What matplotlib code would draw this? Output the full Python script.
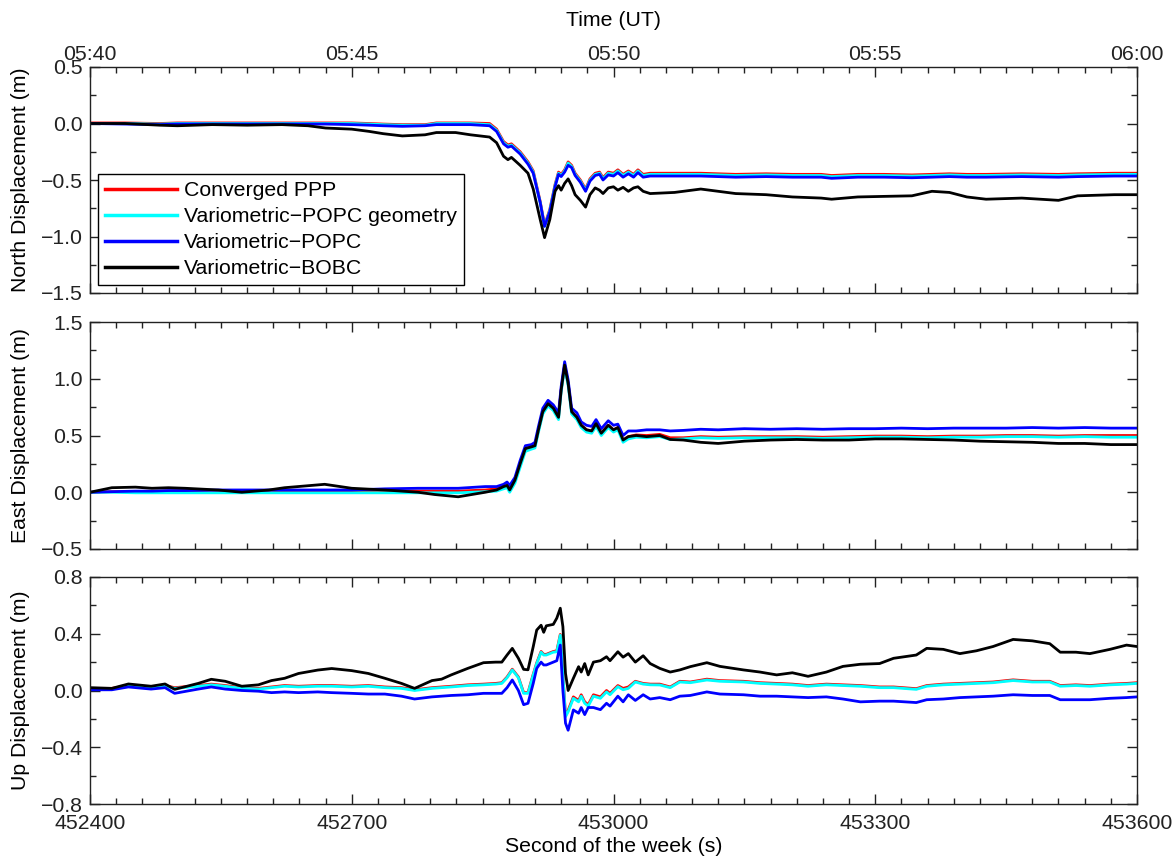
import matplotlib
matplotlib.use("Agg")
import matplotlib.pyplot as plt
from matplotlib.ticker import MultipleLocator, FuncFormatter
from matplotlib.legend_handler import HandlerLine2D
from matplotlib.lines import Line2D

plt.rcParams['font.family'] = ['Liberation Sans', 'DejaVu Sans']
plt.rcParams['font.size'] = 15.3

# ---------------- North component ----------------
t_north = [452400, 452440, 452480, 452500, 452540, 452580, 452620, 452650, 452670, 452700,
           452720, 452736, 452758, 452784, 452797, 452819, 452836,
           452858, 452866, 452874, 452879, 452883, 452893, 452902, 452908, 452916, 452921,
           452927, 452933, 452937, 452940, 452944, 452948, 452952, 452956, 452962, 452968,
           452973, 452979, 452984, 452988, 452994, 453000, 453005, 453011, 453017, 453023,
           453028, 453034, 453042,
           453070, 453100, 453140, 453175, 453205, 453238, 453250, 453280, 453310, 453342,
           453365, 453385, 453405, 453427, 453468, 453510, 453532, 453574, 453600]

north_ppp = [0.005, 0.005, 0.0, 0.005, 0.005, 0.005, 0.005, 0.005, 0.005, 0.005,
             0.0, -0.005, -0.01, -0.01, 0.005, 0.005, 0.005,
             0.0, -0.05, -0.16, -0.19, -0.18, -0.25, -0.34, -0.42, -0.69, -0.90,
             -0.76, -0.54, -0.43, -0.45, -0.41, -0.34, -0.37, -0.44, -0.50, -0.58,
             -0.49, -0.44, -0.43, -0.48, -0.43, -0.44, -0.41, -0.45, -0.42, -0.45,
             -0.41, -0.45, -0.44,
             -0.44, -0.44, -0.45, -0.445, -0.45, -0.45, -0.46, -0.45, -0.45, -0.455,
             -0.45, -0.445, -0.45, -0.45, -0.445, -0.45, -0.445, -0.44, -0.44]

north_geom = [0.0, 0.0, -0.005, 0.0, 0.0, 0.0, 0.0, 0.0, 0.0, 0.0,
              -0.005, -0.01, -0.015, -0.015, 0.0, 0.0, 0.0,
              -0.01, -0.06, -0.17, -0.20, -0.19, -0.26, -0.35, -0.43, -0.70, -0.91,
              -0.77, -0.55, -0.44, -0.46, -0.42, -0.35, -0.38, -0.45, -0.51, -0.59,
              -0.50, -0.45, -0.44, -0.49, -0.44, -0.45, -0.42, -0.46, -0.43, -0.46,
              -0.42, -0.46, -0.45,
              -0.45, -0.45, -0.46, -0.455, -0.46, -0.46, -0.47, -0.46, -0.46, -0.465,
              -0.46, -0.455, -0.46, -0.46, -0.455, -0.46, -0.455, -0.45, -0.45]

north_popc = [0.0, -0.005, -0.01, -0.005, -0.005, -0.005, -0.005, -0.005, -0.005, -0.01,
              -0.015, -0.02, -0.025, -0.02, -0.01, -0.01, -0.01,
              -0.02, -0.07, -0.18, -0.21, -0.20, -0.27, -0.36, -0.44, -0.70, -0.91,
              -0.78, -0.56, -0.45, -0.47, -0.43, -0.37, -0.39, -0.46, -0.52, -0.60,
              -0.51, -0.46, -0.45, -0.50, -0.455, -0.465, -0.435, -0.475, -0.445, -0.475,
              -0.435, -0.475, -0.465,
              -0.465, -0.465, -0.475, -0.47, -0.475, -0.475, -0.485, -0.475, -0.475, -0.48,
              -0.475, -0.47, -0.475, -0.475, -0.47, -0.475, -0.47, -0.465, -0.465]

north_bobc = [0.0, 0.0, -0.015, -0.02, -0.01, -0.015, -0.01, -0.02, -0.04, -0.05,
              -0.07, -0.09, -0.11, -0.10, -0.08, -0.08, -0.10,
              -0.12, -0.17, -0.29, -0.32, -0.30, -0.37, -0.44, -0.58, -0.85, -1.01,
              -0.85, -0.60, -0.55, -0.59, -0.53, -0.49, -0.55, -0.63, -0.68, -0.74,
              -0.63, -0.57, -0.59, -0.62, -0.57, -0.56, -0.59, -0.565, -0.60, -0.57,
              -0.56, -0.60, -0.62,
              -0.61, -0.58, -0.62, -0.63, -0.65, -0.66, -0.67, -0.65, -0.645, -0.64,
              -0.60, -0.61, -0.65, -0.67, -0.66, -0.68, -0.64, -0.63, -0.63]

# ---------------- East component ----------------
t_east = [452400, 452425, 452452, 452471, 452490, 452509, 452547, 452574, 452605, 452623,
          452669, 452700, 452738, 452776, 452795, 452822, 452853,
          452866, 452874, 452878, 452881, 452887, 452893, 452899, 452906, 452910, 452914,
          452919, 452925, 452931, 452937, 452940, 452944, 452948, 452952, 452958, 452963,
          452969, 452975, 452980, 452986, 452994, 453000, 453005, 453011, 453017, 453026,
          453038, 453053, 453065,
          453080, 453100, 453120, 453150, 453180, 453210, 453240, 453270, 453300, 453330,
          453360, 453390, 453420, 453450, 453480, 453510, 453540, 453570, 453600]

east_ppp = [0.0, 0.005, 0.005, 0.005, 0.01, 0.01, 0.01, 0.01, 0.01, 0.01,
            0.01, 0.01, 0.01, 0.01, 0.01, 0.01, 0.02,
            0.03, 0.05, 0.06, 0.03, 0.11, 0.25, 0.385, 0.40, 0.41, 0.55,
            0.71, 0.78, 0.74, 0.66, 0.90, 1.12, 0.96, 0.71, 0.66, 0.59,
            0.55, 0.54, 0.60, 0.52, 0.59, 0.55, 0.57, 0.46, 0.49, 0.505,
            0.50, 0.51, 0.48,
            0.48, 0.49, 0.485, 0.49, 0.49, 0.49, 0.485, 0.49, 0.495, 0.495,
            0.49, 0.495, 0.495, 0.50, 0.50, 0.495, 0.50, 0.50, 0.50]

east_geom = [0.0, 0.0, -0.005, -0.005, -0.005, -0.005, -0.005, -0.005, -0.005, -0.005,
             -0.005, -0.005, -0.005, -0.005, -0.005, -0.005, 0.005,
             0.01, 0.03, 0.04, 0.0, 0.08, 0.22, 0.36, 0.38, 0.39, 0.53,
             0.69, 0.76, 0.72, 0.64, 0.88, 1.10, 0.94, 0.69, 0.64, 0.57,
             0.53, 0.52, 0.58, 0.50, 0.57, 0.53, 0.55, 0.44, 0.47, 0.485,
             0.48, 0.49, 0.465,
             0.47, 0.48, 0.475, 0.48, 0.48, 0.48, 0.475, 0.48, 0.485, 0.485,
             0.48, 0.485, 0.485, 0.49, 0.49, 0.485, 0.49, 0.485, 0.485]

east_popc = [0.0, 0.005, 0.01, 0.01, 0.015, 0.015, 0.02, 0.02, 0.02, 0.02,
             0.02, 0.02, 0.03, 0.035, 0.035, 0.035, 0.05,
             0.05, 0.07, 0.09, 0.06, 0.13, 0.28, 0.41, 0.42, 0.44, 0.58,
             0.74, 0.81, 0.77, 0.70, 0.93, 1.15, 0.99, 0.74, 0.70, 0.62,
             0.59, 0.58, 0.64, 0.56, 0.63, 0.59, 0.60, 0.50, 0.54, 0.54,
             0.55, 0.55, 0.54,
             0.545, 0.555, 0.55, 0.56, 0.555, 0.56, 0.555, 0.56, 0.56, 0.565,
             0.56, 0.565, 0.565, 0.565, 0.57, 0.565, 0.57, 0.565, 0.565]

east_bobc = [0.0, 0.04, 0.045, 0.035, 0.04, 0.035, 0.02, 0.0, 0.02, 0.04,
             0.07, 0.035, 0.02, 0.0, -0.02, -0.04, 0.0,
             0.02, 0.05, 0.06, 0.02, 0.106, 0.25, 0.385, 0.40, 0.41, 0.55,
             0.71, 0.78, 0.74, 0.66, 0.90, 1.12, 0.96, 0.71, 0.66, 0.59,
             0.55, 0.54, 0.605, 0.52, 0.59, 0.55, 0.57, 0.46, 0.49, 0.50,
             0.49, 0.50, 0.465,
             0.46, 0.44, 0.43, 0.45, 0.46, 0.465, 0.46, 0.46, 0.47, 0.47,
             0.465, 0.46, 0.45, 0.445, 0.44, 0.43, 0.43, 0.42, 0.42]

# ---------------- Up component ----------------
t_up = [452400, 452425, 452444, 452470, 452486, 452497, 452524, 452539, 452555, 452574,
        452593, 452608, 452623, 452639, 452661, 452677, 452700, 452719, 452738, 452757,
        452772, 452792, 452803, 452814, 452833,
        452851, 452865, 452872, 452878, 452884, 452891, 452897, 452902, 452908, 452912,
        452917, 452920, 452923, 452931, 452935, 452939, 452942, 452945, 452948, 452954,
        452960, 452963, 452967, 452971, 452977, 452985, 452992, 452996, 453005, 453011,
        453017, 453025, 453034, 453042,
        453053, 453065, 453076, 453088, 453107, 453122, 453149, 453168, 453187, 453205,
        453223, 453244, 453263, 453283, 453305, 453321, 453347, 453359, 453378, 453397,
        453416, 453435, 453458, 453480, 453500, 453512, 453530, 453546, 453569, 453588,
        453600]

up_ppp = [0.015, 0.015, 0.035, 0.025, 0.035, 0.02, 0.035, 0.045, 0.035, 0.02,
          0.015, 0.025, 0.035, 0.03, 0.035, 0.035, 0.03, 0.035, 0.025, 0.02,
          0.005, 0.02, 0.025, 0.03, 0.04,
          0.045, 0.05, 0.055, 0.095, 0.15, 0.095, -0.015, -0.015, 0.115, 0.195,
          0.275, 0.255, 0.255, 0.275, 0.28, 0.395, 0.115, -0.175, -0.14, -0.045,
          -0.07, -0.03, -0.08, -0.10, -0.03, -0.045, 0.0, -0.02, 0.035, 0.015,
          0.025, 0.065, 0.05, 0.045,
          0.045, 0.025, 0.065, 0.06, 0.08, 0.07, 0.065, 0.055, 0.05, 0.045,
          0.035, 0.045, 0.04, 0.035, 0.025, 0.025, 0.013, 0.035, 0.045, 0.05,
          0.055, 0.06, 0.075, 0.065, 0.065, 0.035, 0.04, 0.035, 0.045, 0.05,
          0.055]

up_geom = [0.01, 0.01, 0.03, 0.02, 0.03, 0.015, 0.03, 0.04, 0.03, 0.015,
           0.01, 0.02, 0.03, 0.025, 0.03, 0.03, 0.025, 0.03, 0.02, 0.015,
           0.0, 0.015, 0.02, 0.025, 0.035,
           0.04, 0.045, 0.05, 0.09, 0.145, 0.09, -0.02, -0.02, 0.11, 0.19,
           0.27, 0.25, 0.25, 0.27, 0.273, 0.39, 0.11, -0.185, -0.15, -0.055,
           -0.08, -0.04, -0.09, -0.11, -0.04, -0.055, -0.01, -0.03, 0.027, 0.005,
           0.015, 0.06, 0.045, 0.04,
           0.039, 0.02, 0.06, 0.055, 0.074, 0.065, 0.06, 0.05, 0.045, 0.04,
           0.03, 0.04, 0.035, 0.03, 0.02, 0.02, 0.008, 0.03, 0.04, 0.045,
           0.05, 0.055, 0.07, 0.06, 0.06, 0.03, 0.035, 0.03, 0.04, 0.045,
           0.05]

up_popc = [0.005, 0.005, 0.025, 0.01, 0.02, -0.02, 0.01, 0.025, 0.01, 0.0,
           -0.005, -0.015, -0.01, -0.015, -0.01, -0.015, -0.02, -0.025, -0.025, -0.04,
           -0.06, -0.045, -0.04, -0.035, -0.03,
           -0.02, -0.02, -0.02, 0.02, 0.074, 0.0, -0.10, -0.09, 0.05, 0.156,
           0.20, 0.18, 0.18, 0.20, 0.21, 0.32, 0.0, -0.23, -0.28, -0.137,
           -0.16, -0.12, -0.17, -0.12, -0.12, -0.135, -0.09, -0.11, -0.04, -0.08,
           -0.03, -0.07, -0.03, -0.06,
           -0.05, -0.065, -0.04, -0.035, -0.01, -0.025, -0.03, -0.04, -0.04, -0.045,
           -0.05, -0.045, -0.06, -0.08, -0.075, -0.075, -0.085, -0.065, -0.06, -0.05,
           -0.045, -0.04, -0.03, -0.035, -0.035, -0.065, -0.065, -0.065, -0.055, -0.05,
           -0.045]

up_bobc = [0.02, 0.015, 0.046, 0.03, 0.046, 0.008, 0.05, 0.079, 0.065, 0.03,
           0.04, 0.07, 0.086, 0.12, 0.144, 0.155, 0.14, 0.12, 0.086, 0.05,
           0.015, 0.07, 0.08, 0.11, 0.156,
           0.196, 0.20, 0.20, 0.25, 0.297, 0.227, 0.149, 0.146, 0.309, 0.426,
           0.46, 0.41, 0.456, 0.466, 0.51, 0.58, 0.45, 0.12, 0.0, 0.086,
           0.168, 0.13, 0.19, 0.11, 0.20, 0.21, 0.238, 0.21, 0.273, 0.235,
           0.26, 0.20, 0.245, 0.19,
           0.156, 0.13, 0.145, 0.168, 0.196, 0.17, 0.145, 0.13, 0.11, 0.125,
           0.10, 0.13, 0.17, 0.185, 0.19, 0.227, 0.25, 0.297, 0.29, 0.26,
           0.28, 0.31, 0.36, 0.35, 0.33, 0.27, 0.27, 0.26, 0.29, 0.32,
           0.31]

series_labels = ['Converged PPP', 'Variometric\u2212POPC geometry',
                 'Variometric\u2212POPC', 'Variometric\u2212BOBC']
series_colors = ['#ff0000', '#00ffff', '#0000ff', '#000000']

panels = [
    (t_north, [north_ppp, north_geom, north_popc, north_bobc],
     'North Displacement (m)', (-1.5, 0.5), 0.5, 0.25),
    (t_east, [east_ppp, east_geom, east_popc, east_bobc],
     'East Displacement (m)', (-0.5, 1.5), 0.5, 0.25),
    (t_up, [up_ppp, up_geom, up_popc, up_bobc],
     'Up Displacement (m)', (-0.8, 0.8), 0.4, 0.2),
]

fig = plt.figure(figsize=(11.76, 8.57), dpi=100)
left, width = 90 / 1176, 1047 / 1176
boxes = [(67, 293), (322, 549), (577, 804)]


def minus_fmt(v, pos):
    return ('%.1f' % v).replace('-', '\u2212')


def utc_fmt(v, pos):
    sod = int(round(v)) % 86400
    return '%02d:%02d' % (sod // 3600, (sod % 3600) // 60)


class InsetLineHandler(HandlerLine2D):
    """Legend line sample with a little extra space on its left."""

    def __init__(self, inset=4.5, **kw):
        super().__init__(**kw)
        self.inset = inset

    def create_artists(self, legend, orig_handle, xdescent, ydescent,
                       width, height, fontsize, trans):
        arts = super().create_artists(legend, orig_handle, xdescent, ydescent,
                                      width, height, fontsize, trans)
        for a in arts:
            if isinstance(a, Line2D) and len(a.get_xdata()) == 2:
                x0, x1 = a.get_xdata()
                a.set_xdata([x0 + self.inset, x1])
        return arts


axes = []
for (top, bot), (t, ys, ylab, ylim, major, minor) in zip(boxes, panels):
    ax = fig.add_axes([left, 1 - bot / 857, width, (bot - top) / 857])
    for y, c, lab in zip(ys, series_colors, series_labels):
        ax.plot(t, y, color=c, lw=2.0, label=lab, solid_joinstyle='round')
    ax.set_xlim(452400, 453600)
    ax.set_ylim(*ylim)
    ax.xaxis.set_major_locator(MultipleLocator(300))
    ax.xaxis.set_minor_locator(MultipleLocator(30))
    ax.yaxis.set_major_locator(MultipleLocator(major))
    ax.yaxis.set_minor_locator(MultipleLocator(minor))
    ax.yaxis.set_major_formatter(FuncFormatter(minus_fmt))
    ax.tick_params(which='both', direction='in', top=True, right=True,
                   width=1.0, colors='#222222')
    ax.tick_params(which='major', length=7)
    ax.tick_params(axis='y', which='major', pad=5)
    ax.tick_params(axis='x', which='major', pad=7)
    ax.tick_params(which='minor', length=4)
    ax.tick_params(labelbottom=False)
    for s in ax.spines.values():
        s.set_linewidth(1.0)
        s.set_color('#222222')
    ax.set_ylabel(ylab)
    ax.yaxis.set_label_coords(-0.057, 0.5)
    axes.append(ax)

ax1, ax2, ax3 = axes

# top time axis in UT
ax1.tick_params(axis='x', which='major', labeltop=True, pad=2)
ax1.xaxis.set_major_formatter(FuncFormatter(utc_fmt))
ax1.xaxis.set_label_position('top')
ax1.set_xlabel('Time (UT)', labelpad=14)

ax3.tick_params(labelbottom=True)
ax3.set_xlabel('Second of the week (s)', labelpad=3)

handler = InsetLineHandler(inset=4.5)
leg = ax1.legend(loc='lower left', bbox_to_anchor=(0.0073, 0.035),
                 borderaxespad=0, fancybox=False, framealpha=1,
                 edgecolor='#000000', handlelength=3.4, handletextpad=0.35,
                 labelspacing=0.33, borderpad=0.33, fontsize=15.3,
                 handler_map={Line2D: handler})
leg.get_frame().set_linewidth(1.0)
for h in leg.get_lines():
    h.set_linewidth(2.5)

fig.savefig('out.png', dpi=100)
